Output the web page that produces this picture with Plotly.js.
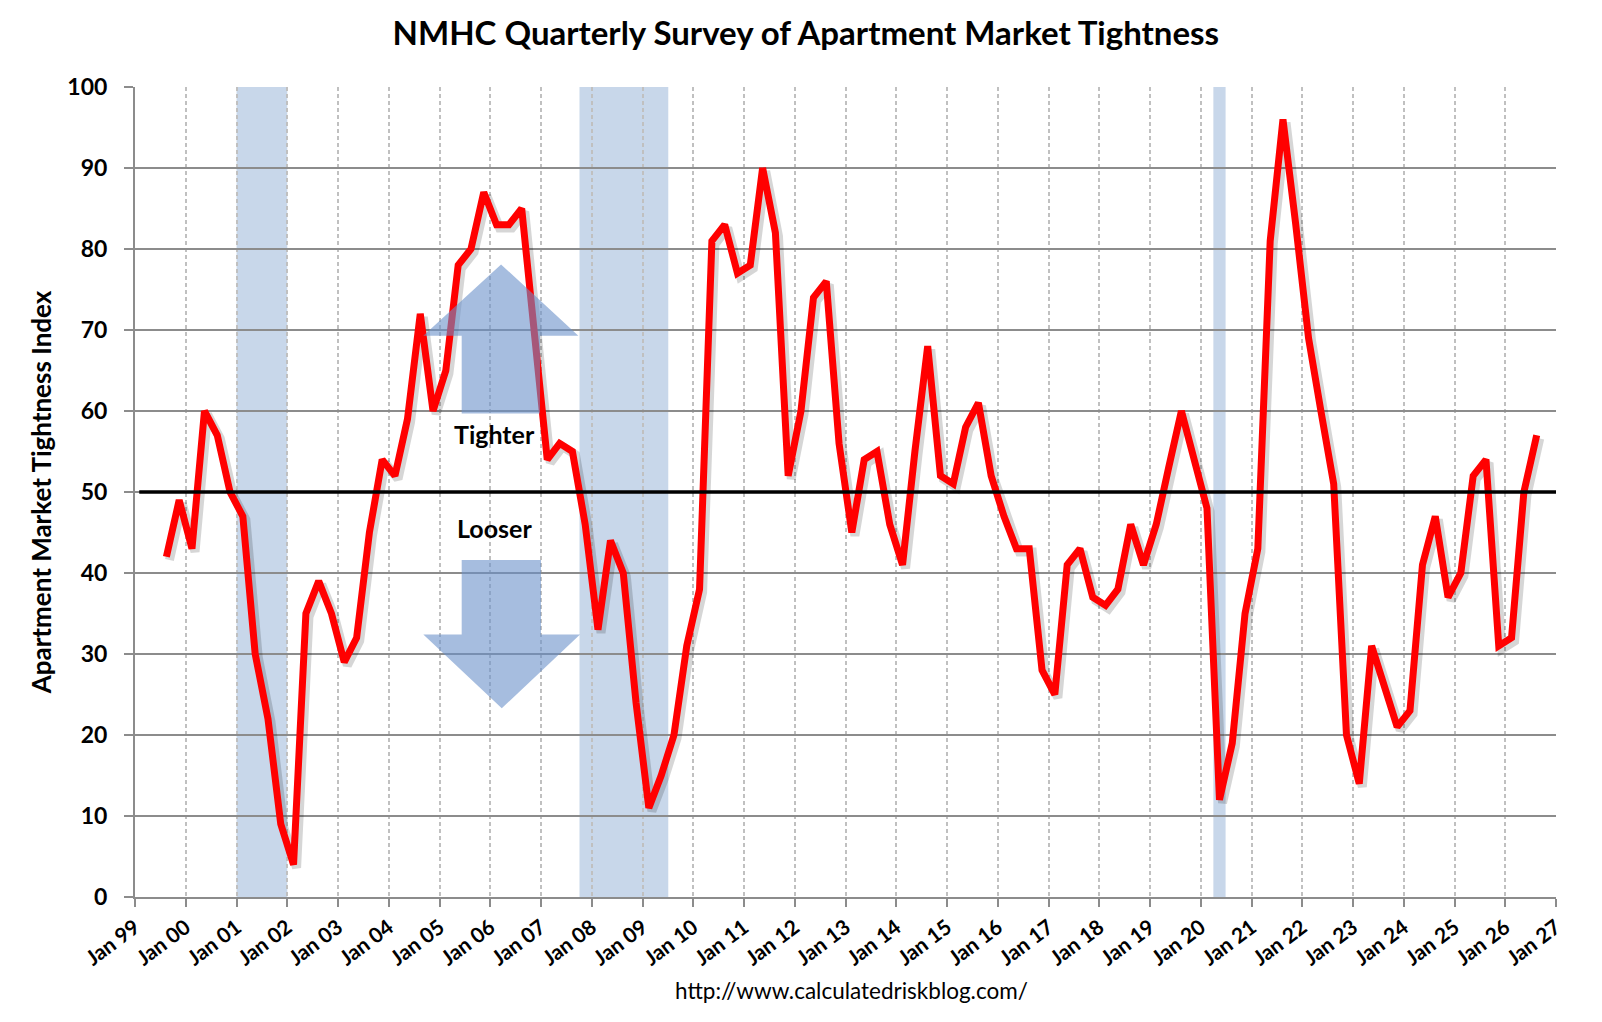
<!DOCTYPE html>
<html>
<head>
<meta charset="utf-8">
<script src="https://cdn.plot.ly/plotly-3.0.1.min.js"></script>
<style>
  html, body { margin: 0; padding: 0; background: #fff; }
  #chart { width: 1602px; height: 1022px; }
</style>
</head>
<body>
<div id="chart"></div>
<script>
// NMHC market tightness index, one value per quarterly survey
const surveyDates = [
  '1999-08-15', '1999-11-15',
  '2000-02-15', '2000-05-15', '2000-08-15', '2000-11-15',
  '2001-02-15', '2001-05-15', '2001-08-15', '2001-11-15',
  '2002-02-15', '2002-05-15', '2002-08-15', '2002-11-15',
  '2003-02-15', '2003-05-15', '2003-08-15', '2003-11-15',
  '2004-02-15', '2004-05-15', '2004-08-15', '2004-11-15',
  '2005-02-15', '2005-05-15', '2005-08-15', '2005-11-15',
  '2006-02-15', '2006-05-15', '2006-08-15', '2006-11-15',
  '2007-02-15', '2007-05-15', '2007-08-15', '2007-11-15',
  '2008-02-15', '2008-05-15', '2008-08-15', '2008-11-15',
  '2009-02-15', '2009-05-15', '2009-08-15', '2009-11-15',
  '2010-02-15', '2010-05-15', '2010-08-15', '2010-11-15',
  '2011-02-15', '2011-05-15', '2011-08-15', '2011-11-15',
  '2012-02-15', '2012-05-15', '2012-08-15', '2012-11-15',
  '2013-02-15', '2013-05-15', '2013-08-15', '2013-11-15',
  '2014-02-15', '2014-05-15', '2014-08-15', '2014-11-15',
  '2015-02-15', '2015-05-15', '2015-08-15', '2015-11-15',
  '2016-02-15', '2016-05-15', '2016-08-15', '2016-11-15',
  '2017-02-15', '2017-05-15', '2017-08-15', '2017-11-15',
  '2018-02-15', '2018-05-15', '2018-08-15', '2018-11-15',
  '2019-02-15', '2019-05-15', '2019-08-15', '2019-11-15',
  '2020-02-15', '2020-05-15', '2020-08-15', '2020-11-15',
  '2021-02-15', '2021-05-15', '2021-08-15', '2021-11-15',
  '2022-02-15', '2022-05-15', '2022-08-15', '2022-11-15',
  '2023-02-15', '2023-05-15', '2023-08-15', '2023-11-15',
  '2024-02-15', '2024-05-15', '2024-08-15', '2024-11-15',
  '2025-02-15', '2025-05-15', '2025-08-15', '2025-11-15',
  '2026-02-15', '2026-05-15', '2026-08-15'
];

const tightness = [
  42, 49,
  43, 60, 57, 50,
  47, 30, 22, 9,
  4, 35, 39, 35,
  29, 32, 45, 54,
  52, 59, 72, 60,
  65, 78, 80, 87,
  83, 83, 85, 70,
  54, 56, 55, 46,
  33, 44, 40, 24,
  11, 15, 20, 31,
  38, 81, 83, 77,
  78, 90, 82, 52,
  60, 74, 76, 56,
  45, 54, 55, 46,
  41, 55, 68, 52,
  51, 58, 61, 52,
  47, 43, 43, 28,
  25, 41, 43, 37,
  36, 38, 46, 41,
  46, 53, 60, 54,
  48, 12, 19, 35,
  43, 81, 96, 83,
  69, 60, 51, 20,
  14, 31, 26, 21,
  23, 41, 47, 37,
  40, 52, 54, 31,
  32, 50, 57
];

// recession bands as drawn on the chart
const recessionStart = ['2001-01-01', '2007-10-05', '2020-04-01'];
const recessionEnd   = ['2002-01-01', '2009-07-05', '2020-06-28'];

const neutralLevel = 50;
const arrowLabels = ['Tighter', 'Looser'];
const sourceText = 'http://www.calculatedriskblog.com/';

const FONT = 'Lato, Open Sans, sans-serif';
const arrowFill = 'rgba(107,145,202,0.6)';
const X_RANGE = ['1999-01-01', '2027-01-01'];
const Y_RANGE = [0, 100];

const shapes = recessionStart.map((s, i) => ({
  type: 'rect', layer: 'below',
  xref: 'x', yref: 'paper',
  x0: s, x1: recessionEnd[i], y0: 0, y1: 1,
  fillcolor: '#c8d7ea', line: {width: 0}
}));

// 50 = neutral line
shapes.push({
  type: 'line', layer: 'above',
  xref: 'paper', yref: 'y',
  x0: 0.003, x1: 1, y0: neutralLevel, y1: neutralLevel,
  line: {color: '#000', width: 3.5}
});

// up / down arrows (x in paper, y in index units)
shapes.push({
  type: 'path', layer: 'above', xref: 'paper', yref: 'y',
  path: 'M0.2576,78.1 L0.3120,69.3 L0.2850,69.3 L0.2850,59.7 L0.2299,59.7 L0.2299,69.3 L0.2029,69.3 Z',
  fillcolor: arrowFill, line: {width: 0}
});
shapes.push({
  type: 'path', layer: 'above', xref: 'paper', yref: 'y',
  path: 'M0.2299,41.6 L0.2857,41.6 L0.2857,32.4 L0.3132,32.4 L0.2581,23.3 L0.2029,32.4 L0.2299,32.4 Z',
  fillcolor: arrowFill, line: {width: 0}
});

const annotations = [
  {xref: 'paper', yref: 'y', x: 0.2531, y: 57.2, xanchor: 'center', yanchor: 'middle',
   text: '<b>' + arrowLabels[0] + '</b>', showarrow: false,
   font: {family: FONT, size: 25, color: '#000'}},
  {xref: 'paper', yref: 'y', x: 0.2527, y: 45.6, xanchor: 'center', yanchor: 'middle',
   text: '<b>' + arrowLabels[1] + '</b>', showarrow: false,
   font: {family: FONT, size: 25, color: '#000'}},
  {xref: 'paper', yref: 'paper', x: 0.504, y: -0.116, xanchor: 'center', yanchor: 'middle',
   text: sourceText, showarrow: false,
   font: {family: FONT, size: 22.5, color: '#000'}}
];

const data = [
  // soft drop shadow: same series on hidden axes nudged a few pixels right/down
  {
    x: surveyDates,
    y: tightness,
    xaxis: 'x2', yaxis: 'y2',
    type: 'scatter',
    mode: 'lines',
    line: {color: 'rgba(0,0,0,0.16)', width: 9},
    hoverinfo: 'skip'
  },
  // the index itself, on hidden axes matching the visible ones, drawn on top
  {
    x: surveyDates,
    y: tightness,
    xaxis: 'x3', yaxis: 'y3',
    type: 'scatter',
    mode: 'lines',
    line: {color: '#ff0000', width: 7},
    hoverinfo: 'x+y'
  }
];

const layout = {
  width: 1602,
  height: 1022,
  margin: {l: 135, r: 46, t: 87, b: 125},
  paper_bgcolor: '#fff',
  plot_bgcolor: '#fff',
  showlegend: false,
  title: {
    text: '<b>NMHC Quarterly Survey of Apartment Market Tightness</b>',
    xref: 'container', x: 0.503, y: 0.967, yanchor: 'middle',
    font: {family: FONT, size: 33, color: '#000'}
  },
  xaxis: {
    type: 'date',
    range: X_RANGE,
    tick0: '1999-01-01',
    dtick: 'M12',
    tickformat: '%b %y',
    tickangle: -37,
    tickfont: {family: FONT, size: 21, weight: 'bold', color: '#000'},
    ticks: 'outside', ticklen: 8, tickwidth: 2, tickcolor: '#8c8c8c',
    showgrid: true, gridcolor: '#c0c0c0', gridwidth: 1.5, griddash: '4px,3px',
    showline: true, linecolor: '#8c8c8c', linewidth: 2,
    zeroline: false
  },
  xaxis2: {type: 'date', overlaying: 'x', range: ['1998-12-10', '2026-12-10'], visible: false},
  xaxis3: {type: 'date', overlaying: 'x', range: X_RANGE, visible: false},
  yaxis: {
    range: Y_RANGE,
    dtick: 10,
    tickfont: {family: FONT, size: 23, weight: 'bold', color: '#000'},
    ticks: 'outside', ticklen: 9, tickwidth: 2, tickcolor: '#8c8c8c',
    ticklabelstandoff: 12,
    showgrid: true, gridcolor: '#8c8c8c', gridwidth: 1.5,
    showline: true, linecolor: '#8c8c8c', linewidth: 2,
    zeroline: false,
    title: {
      text: 'Apartment Market Tightness Index',
      standoff: 8,
      font: {family: FONT, size: 26, weight: 'bold', color: '#000'}
    }
  },
  yaxis2: {overlaying: 'y', range: [0.4, 100.4], visible: false},
  yaxis3: {overlaying: 'y', range: Y_RANGE, visible: false},
  shapes: shapes,
  annotations: annotations
};

Plotly.newPlot('chart', data, layout, {displayModeBar: false, responsive: false});
</script>
</body>
</html>
